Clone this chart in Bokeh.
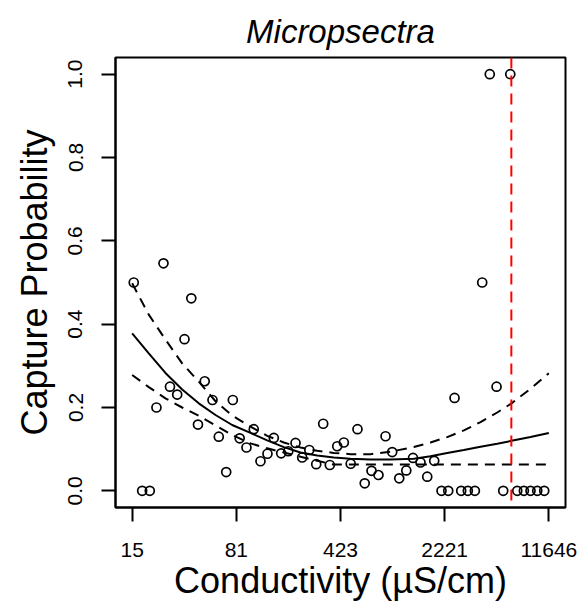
import numpy as np
from bokeh.plotting import figure
from bokeh.models import Range1d, FixedTicker, Span
from bokeh.embed import file_html
from bokeh.resources import INLINE

# ln(conductivity) of each binned observation and its capture probability
log_cond = [2.763, 2.897, 3.018, 3.124, 3.236, 3.339, 3.454, 3.570, 3.678, 3.784,
            3.892, 4.015, 4.115, 4.233, 4.338, 4.447, 4.555, 4.671, 4.778, 4.889,
            4.990, 5.107, 5.220, 5.335, 5.441, 5.554, 5.664, 5.775, 5.880, 5.998,
            6.103, 6.212, 6.320, 6.435, 6.543, 6.654, 6.766, 6.872, 6.984, 7.096,
            7.203, 7.322, 7.429, 7.540, 7.656, 7.763, 7.863, 7.969, 8.074, 8.186,
            8.303, 8.423, 8.531, 8.637, 8.749, 8.860, 8.965, 9.071, 9.178, 9.289]
capture_prob = [0.5, 0.0, 0.0, 0.2, 0.546, 0.25, 0.231, 0.364, 0.462, 0.159,
                0.263, 0.218, 0.13, 0.045, 0.218, 0.126, 0.104, 0.148, 0.071, 0.089,
                0.127, 0.09, 0.095, 0.115, 0.08, 0.098, 0.064, 0.161, 0.062, 0.107,
                0.116, 0.065, 0.148, 0.018, 0.048, 0.038, 0.131, 0.093, 0.030, 0.049,
                0.079, 0.068, 0.034, 0.072, 0.0, 0.0, 0.223, 0.0, 0.0, 0.0,
                0.5, 1.0, 0.25, 0.0, 1.0, 0.0, 0.0, 0.0, 0.0, 0.0]

# fitted curve and confidence band
curve_x = [2.738, 3.002, 3.267, 3.533, 3.797, 4.063, 4.328, 4.619, 4.885, 5.149,
           5.414, 5.680, 5.944, 6.209, 6.527, 6.845, 7.216, 7.481, 7.747, 8.011,
           8.276, 8.542, 8.769, 9.071, 9.362]
fit_y = [0.378, 0.330, 0.283, 0.243, 0.210, 0.182, 0.158, 0.139, 0.121, 0.105,
         0.092, 0.085, 0.080, 0.077, 0.075, 0.075, 0.077, 0.083, 0.091, 0.098,
         0.106, 0.113, 0.120, 0.129, 0.139]
upper_y = [0.498, 0.423, 0.363, 0.306, 0.262, 0.215, 0.181, 0.154, 0.132, 0.116,
           0.104, 0.096, 0.091, 0.088, 0.088, 0.094, 0.105, 0.116, 0.129, 0.145,
           0.165, 0.188, 0.210, 0.245, 0.282]
lower_y = [0.278, 0.249, 0.222, 0.200, 0.180, 0.157, 0.134, 0.114, 0.102, 0.092,
           0.082, 0.072, 0.063, 0.063, 0.063, 0.063, 0.063, 0.063, 0.063, 0.063,
           0.063, 0.063, 0.063, 0.063, 0.063]

threshold_log = 8.766  # ln(µS/cm) of the red dashed line

x_tick_pos = [2.738, 4.394, 6.050, 7.706, 9.362]
x_tick_labels = ["15", "81", "423", "2221", "11646"]
y_ticks = [0.0, 0.2, 0.4, 0.6, 0.8, 1.0]
y_tick_labels = ["0.0", "0.2", "0.4", "0.6", "0.8", "1.0"]

FONT = "Liberation Sans"

xmin, xmax = x_tick_pos[0], x_tick_pos[-1]
pad = 0.04 * (xmax - xmin)

p = figure(width=583, height=608, output_backend="svg", toolbar_location=None,
           x_range=Range1d(xmin - pad, xmax + pad), y_range=Range1d(-0.04, 1.04),
           min_border_left=115, min_border_right=18, min_border_top=57, min_border_bottom=101)

p.grid.visible = False
p.background_fill_color = "white"
p.border_fill_color = "white"
p.outline_line_color = "black"
p.outline_line_width = 2

p.title.text = "Micropsectra"
p.title.text_font = FONT
p.title.text_font_size = "33px"
p.title.text_font_style = "italic"
p.title.align = "center"
p.title.text_color = "black"
p.title.standoff = 16

for ax in (p.xaxis[0], p.yaxis[0]):
    ax.axis_line_width = 2
    ax.major_tick_line_width = 2
    ax.major_tick_out = 14
    ax.major_tick_in = 0
    ax.minor_tick_out = 0
    ax.minor_tick_in = 0
    ax.major_label_text_font = FONT
    ax.major_label_text_font_size = "21px"
    ax.major_label_text_color = "black"
    ax.axis_label_text_font = FONT
    ax.axis_label_text_font_size = "36px"
    ax.axis_label_text_font_style = "normal"
    ax.axis_label_text_color = "black"

p.xaxis.ticker = FixedTicker(ticks=x_tick_pos)
p.xaxis.major_label_overrides = {t: l for t, l in zip(x_tick_pos, x_tick_labels)}
p.xaxis.major_label_standoff = 21
p.xaxis.axis_label = "Conductivity (µS/cm)"
p.xaxis.axis_label_standoff = 0

p.yaxis.ticker = FixedTicker(ticks=y_ticks)
p.yaxis.major_label_overrides = {t: l for t, l in zip(y_ticks, y_tick_labels)}
p.yaxis.major_label_orientation = "vertical"
p.yaxis.major_label_standoff = 19
p.yaxis.axis_label = "Capture Probability"
p.yaxis.axis_label_standoff = 11

p.line(curve_x, fit_y, line_color="black", line_width=2)
p.line(curve_x, upper_y, line_color="black", line_width=2, line_dash="10 7")
p.line(curve_x, lower_y, line_color="black", line_width=2, line_dash="10 7")

p.scatter(log_cond, capture_prob, marker="circle", size=9, fill_color=None,
          line_color="black", line_width=1.7)

p.add_layout(Span(location=threshold_log, dimension="height", line_color="#FF0000",
                  line_width=2, line_dash="11 7"))

open("out.html", "w").write(file_html(p, INLINE))
